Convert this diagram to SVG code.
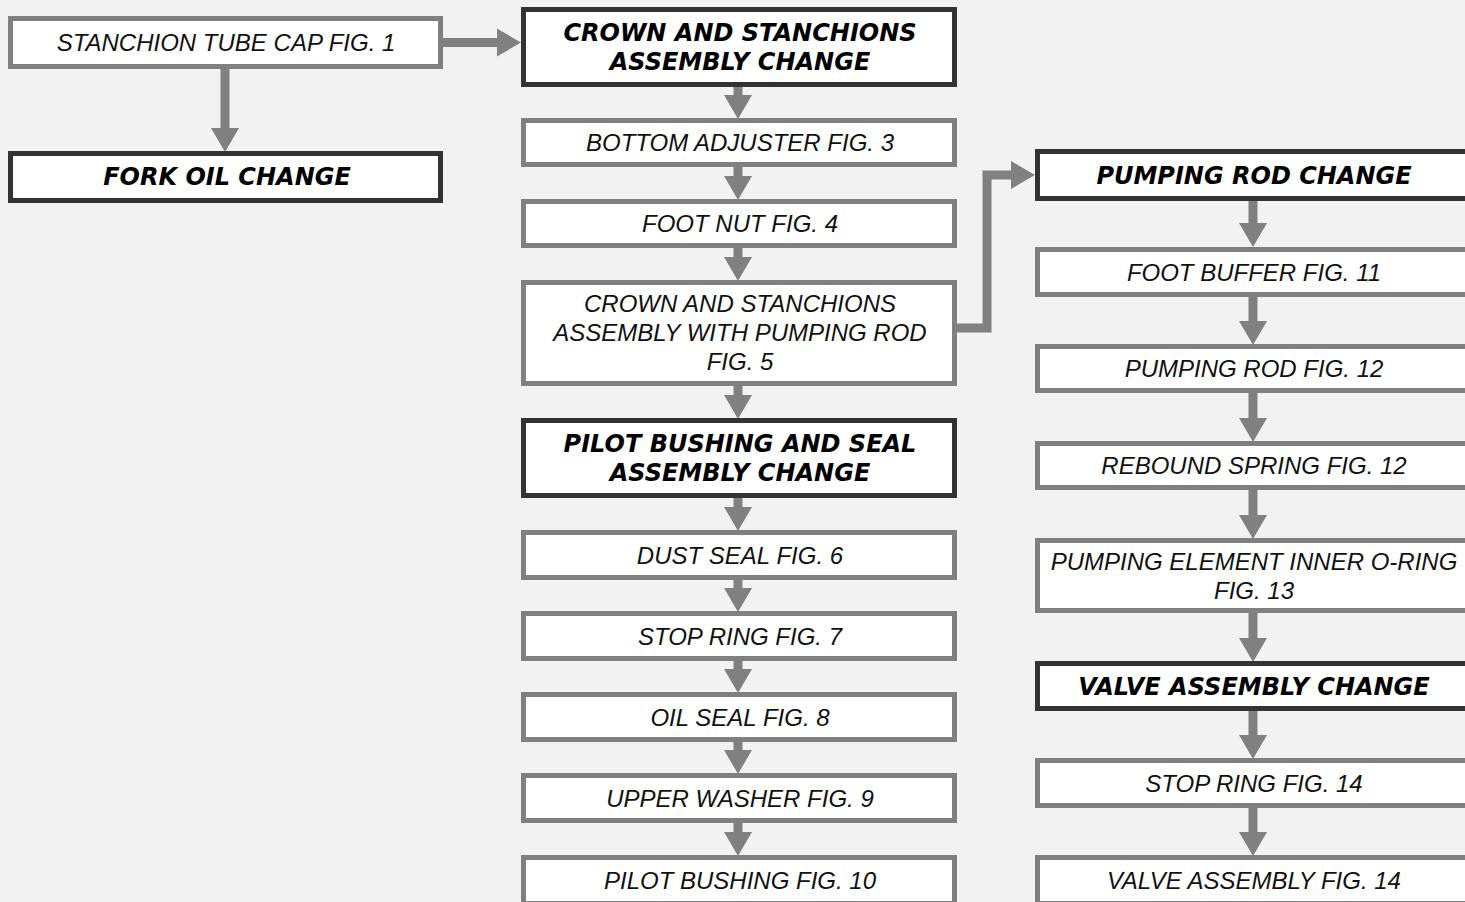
<svg xmlns="http://www.w3.org/2000/svg" width="1465" height="902" viewBox="0 0 1465 902">
<style>
.bg{fill:#f2f2f2}
.n rect{fill:#ffffff;stroke:#808080;stroke-width:5}
.h rect{fill:#ffffff;stroke:#333333;stroke-width:5}
.n text{font-family:"Liberation Sans",Arial,sans-serif;font-style:italic;font-size:24px;fill:#111111;text-anchor:middle}
.h text{font-family:"DejaVu Sans",Verdana,sans-serif;font-style:oblique;font-weight:bold;font-size:24px;fill:#000000;text-anchor:middle}
.c path{fill:none;stroke:#808080;stroke-width:9;stroke-linejoin:miter}
</style>
<defs>
<marker id="ah" markerUnits="userSpaceOnUse" markerWidth="24" markerHeight="28" refX="0" refY="14" orient="auto" overflow="visible">
<path d="M0,0 L24,14 L0,28 Z" fill="#808080"/>
</marker>
</defs>
<rect class="bg" x="0" y="0" width="1465" height="902"/>

<g id="connectors" class="c">
<path d="M225,69 V128" marker-end="url(#ah)"/>
<path d="M443,42.5 H497" marker-end="url(#ah)"/>
<path d="M738,87 V95" marker-end="url(#ah)"/>
<path d="M738,167 V176" marker-end="url(#ah)"/>
<path d="M738,248 V257" marker-end="url(#ah)"/>
<path d="M738,386 V395" marker-end="url(#ah)"/>
<path d="M738,498 V507" marker-end="url(#ah)"/>
<path d="M738,580 V588" marker-end="url(#ah)"/>
<path d="M738,661 V669" marker-end="url(#ah)"/>
<path d="M738,742 V750" marker-end="url(#ah)"/>
<path d="M738,823 V832" marker-end="url(#ah)"/>
<path d="M957,328 H987 V175 H1011" marker-end="url(#ah)"/>
<path d="M1253,200 V223" marker-end="url(#ah)"/>
<path d="M1253,297 V321" marker-end="url(#ah)"/>
<path d="M1253,393 V418" marker-end="url(#ah)"/>
<path d="M1253,490 V515" marker-end="url(#ah)"/>
<path d="M1253,613 V638" marker-end="url(#ah)"/>
<path d="M1253,711 V735" marker-end="url(#ah)"/>
<path d="M1253,808 V832" marker-end="url(#ah)"/>
</g>

<g id="stanchion-tube-cap" class="n">
<rect x="10.5" y="18.5" width="430" height="48"/>
<text x="226" y="51">STANCHION TUBE CAP FIG. 1</text>
</g>
<g id="fork-oil-change" class="h">
<rect x="10.5" y="153.5" width="430" height="47"/>
<text x="227" y="185">FORK OIL CHANGE</text>
</g>

<g id="crown-stanchions-change" class="h">
<rect x="523.5" y="9.5" width="431" height="75"/>
<text x="740" y="41">CROWN AND STANCHIONS</text>
<text x="740" y="70">ASSEMBLY CHANGE</text>
</g>
<g id="bottom-adjuster" class="n">
<rect x="523.5" y="120.5" width="431" height="44"/>
<text x="740" y="151">BOTTOM ADJUSTER FIG. 3</text>
</g>
<g id="foot-nut" class="n">
<rect x="523.5" y="201.5" width="431" height="44"/>
<text x="740" y="232">FOOT NUT FIG. 4</text>
</g>
<g id="crown-stanchions-pumping-rod" class="n">
<rect x="523.5" y="282.5" width="431" height="101"/>
<text x="740" y="312">CROWN AND STANCHIONS</text>
<text x="740" y="341">ASSEMBLY WITH PUMPING ROD</text>
<text x="740" y="370">FIG. 5</text>
</g>
<g id="pilot-bushing-seal-change" class="h">
<rect x="523.5" y="420.5" width="431" height="75"/>
<text x="740" y="452">PILOT BUSHING AND SEAL</text>
<text x="740" y="481">ASSEMBLY CHANGE</text>
</g>
<g id="dust-seal" class="n">
<rect x="523.5" y="532.5" width="431" height="45"/>
<text x="740" y="564">DUST SEAL FIG. 6</text>
</g>
<g id="stop-ring-7" class="n">
<rect x="523.5" y="613.5" width="431" height="45"/>
<text x="740" y="645">STOP RING FIG. 7</text>
</g>
<g id="oil-seal" class="n">
<rect x="523.5" y="694.5" width="431" height="45"/>
<text x="740" y="726">OIL SEAL FIG. 8</text>
</g>
<g id="upper-washer" class="n">
<rect x="523.5" y="775.5" width="431" height="45"/>
<text x="740" y="807">UPPER WASHER FIG. 9</text>
</g>
<g id="pilot-bushing" class="n">
<rect x="523.5" y="857.5" width="431" height="46"/>
<text x="740" y="889">PILOT BUSHING FIG. 10</text>
</g>

<g id="pumping-rod-change" class="h">
<rect x="1037.5" y="151.5" width="433" height="47"/>
<text x="1254" y="184">PUMPING ROD CHANGE</text>
</g>
<g id="foot-buffer" class="n">
<rect x="1037.5" y="249.5" width="433" height="45"/>
<text x="1254" y="281">FOOT BUFFER FIG. 11</text>
</g>
<g id="pumping-rod" class="n">
<rect x="1037.5" y="346.5" width="433" height="44"/>
<text x="1254" y="377">PUMPING ROD FIG. 12</text>
</g>
<g id="rebound-spring" class="n">
<rect x="1037.5" y="443.5" width="433" height="44"/>
<text x="1254" y="474">REBOUND SPRING FIG. 12</text>
</g>
<g id="pumping-element" class="n">
<rect x="1037.5" y="540.5" width="433" height="70"/>
<text x="1254" y="570">PUMPING ELEMENT INNER O-RING</text>
<text x="1254" y="599">FIG. 13</text>
</g>
<g id="valve-assembly-change" class="h">
<rect x="1037.5" y="663.5" width="433" height="45"/>
<text x="1254" y="695">VALVE ASSEMBLY CHANGE</text>
</g>
<g id="stop-ring-14" class="n">
<rect x="1037.5" y="760.5" width="433" height="45"/>
<text x="1254" y="792">STOP RING FIG. 14</text>
</g>
<g id="valve-assembly" class="n">
<rect x="1037.5" y="857.5" width="433" height="46"/>
<text x="1254" y="889">VALVE ASSEMBLY FIG. 14</text>
</g>
</svg>
